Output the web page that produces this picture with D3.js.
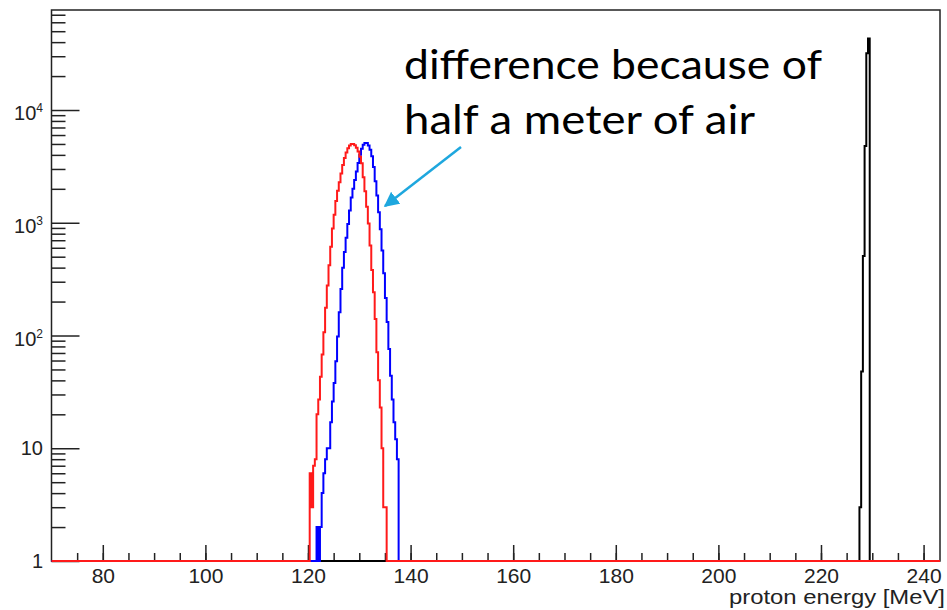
<!DOCTYPE html>
<html><head><meta charset="utf-8">
<script src="https://cdn.jsdelivr.net/npm/d3@7"></script>
<style>body{margin:0;background:#fff}svg{display:block}</style>
</head><body><svg id="c" width="947" height="610"></svg>
<script>
// ---- data ----
const binWidth = 1/3;                       // MeV per histogram bin
const redStart = 120 + 1/3;                 // lower edge of first red bin
const redCounts = [6,3,7,8,20,27,43,68,107,176,277,419,614,888,1178,1563,1923,2291,2729,3251,3754,4198,4570,4840,4990,5000,4880,4630,4280,3850,3365,2535,1906,1387,984,627,381,242,140,71,40,23,10,3,3];
const blueStart = 121 + 2/3;
const blueCounts = [2,1,2,4,6,8,10,10,17,26,38,59,98,161,258,400,551,738,977,1282,1675,2004,2393,2844,3390,4008,4536,4920,5110,5090,4855,4436,3890,3128,2339,1747,1239,875,568,356,215,132,76,44,27,17,12,8];
const blackStart = 227.5;
const blackCounts = [3,48,507,4800,31800,43000];
const xDomain = [70, 243.2];
const yDomain = [1, 77100];
const xMajorTicks = [80,100,120,140,160,180,200,220,240];
const xMinorTicks = d3.range(75, 243, 5);
const yTickValues = [1,10,100,1000,10000];
const yTickBase = ["1","10","10","10","10"];
const yTickExp = ["","","2","3","4"];
const xTitle = "proton energy [MeV]";
const noteLines = ["difference because of","half a meter of air"];

// ---- layout ----
const L = 51.5, R = 940, T = 10, B = 561;
const svg = d3.select("#c");
const x = d3.scaleLinear().domain(xDomain).range([L, R]);
const y = d3.scaleLog().domain(yDomain).range([B, T]);
const font = "'Liberation Sans', Arial, Helvetica, sans-serif";

// y minor ticks
const yMinor = [];
for (let e = 0; e <= 4; e++) for (let m = 2; m <= 9; m++) { const v = m * Math.pow(10, e); if (v < yDomain[1]) yMinor.push(v); }

const gY = svg.append("g").attr("transform", `translate(${L},0)`);
gY.call(d3.axisLeft(y).tickValues(yMinor).tickSize(-14).tickFormat(""));
gY.append("g").call(d3.axisLeft(y).tickValues(yTickValues).tickSize(-28).tickPadding(9).tickFormat(""));
gY.selectAll(".domain").remove();
gY.selectAll("line").attr("stroke", "#222").attr("stroke-width", 1.5);
// y labels with superscripts
yTickValues.forEach((v, i) => {
  const t = svg.append("text").attr("x", L - 8.5).attr("y", y(v)).attr("text-anchor", "end")
    .attr("font-family", font).attr("font-size", 20).attr("fill", "#222")
    .attr("dy", yTickExp[i] ? 10 : 7).text(yTickBase[i]);
  if (yTickExp[i]) t.append("tspan").attr("font-size", 12).attr("dy", -8).text(yTickExp[i]);
});

// x axis
const gX = svg.append("g").attr("transform", `translate(0,${B})`);
gX.call(d3.axisBottom(x).tickValues(xMinorTicks).tickSize(-8).tickFormat(""));
gX.append("g").call(d3.axisBottom(x).tickValues(xMajorTicks).tickSize(-16).tickPadding(7).tickFormat(d3.format("d")));
gX.selectAll(".domain").remove();
gX.selectAll("line").attr("stroke", "#222").attr("stroke-width", 1.5);
gX.selectAll("text").attr("font-family", font).attr("font-size", 21).attr("fill", "#222");

// frame
svg.append("rect").attr("x", L).attr("y", T).attr("width", R - L).attr("height", B - T)
  .attr("fill", "none").attr("stroke", "#222").attr("stroke-width", 1.5);

// histograms
function histPath(start, counts) {
  const pts = [[xDomain[0], 0]];
  counts.forEach((c, i) => pts.push([start + i * binWidth, c]));
  pts.push([start + counts.length * binWidth, 0]);
  pts.push([xDomain[1], 0]);
  return d3.line().x(d => x(d[0])).y(d => y(Math.max(1, d[1]))).curve(d3.curveStepAfter)(pts);
}
[[blackStart, blackCounts, "#000"], [blueStart, blueCounts, "#0000ff"], [redStart, redCounts, "#ff1a1a"]]
  .forEach(([s, c, col]) => svg.append("path").attr("d", histPath(s, c)).attr("fill", "none")
    .attr("stroke", col).attr("stroke-width", 2).attr("stroke-linejoin", "miter"));

// x title
svg.append("text").attr("x", 945).attr("y", 604).attr("text-anchor", "end")
  .attr("font-family", font).attr("font-size", 20).attr("fill", "#222")
  .attr("textLength", 216).attr("lengthAdjust", "spacingAndGlyphs").text(xTitle);

// annotation
const noteFont = "Lato, 'Open Sans', sans-serif";
svg.append("text").attr("x", 404).attr("y", 79).attr("font-family", noteFont).attr("font-size", 41)
  .attr("textLength", 418).attr("lengthAdjust", "spacingAndGlyphs").attr("fill", "#000").text(noteLines[0]);
svg.append("text").attr("x", 404).attr("y", 134).attr("font-family", noteFont).attr("font-size", 41)
  .attr("textLength", 351).attr("lengthAdjust", "spacingAndGlyphs").attr("fill", "#000").text(noteLines[1]);

// arrow
const arrowCol = "#1ea7de";
svg.append("defs").append("marker").attr("id", "ah").attr("viewBox", "0 0 10 10")
  .attr("refX", 9).attr("refY", 5).attr("markerWidth", 6).attr("markerHeight", 6)
  .attr("markerUnits", "strokeWidth").attr("orient", "auto")
  .append("path").attr("d", "M0,0 L10,5 L0,10 Z").attr("fill", arrowCol);
svg.append("line").attr("x1", 461).attr("y1", 147).attr("x2", 385).attr("y2", 206)
  .attr("stroke", arrowCol).attr("stroke-width", 2.5).attr("marker-end", "url(#ah)");
</script></body></html>
